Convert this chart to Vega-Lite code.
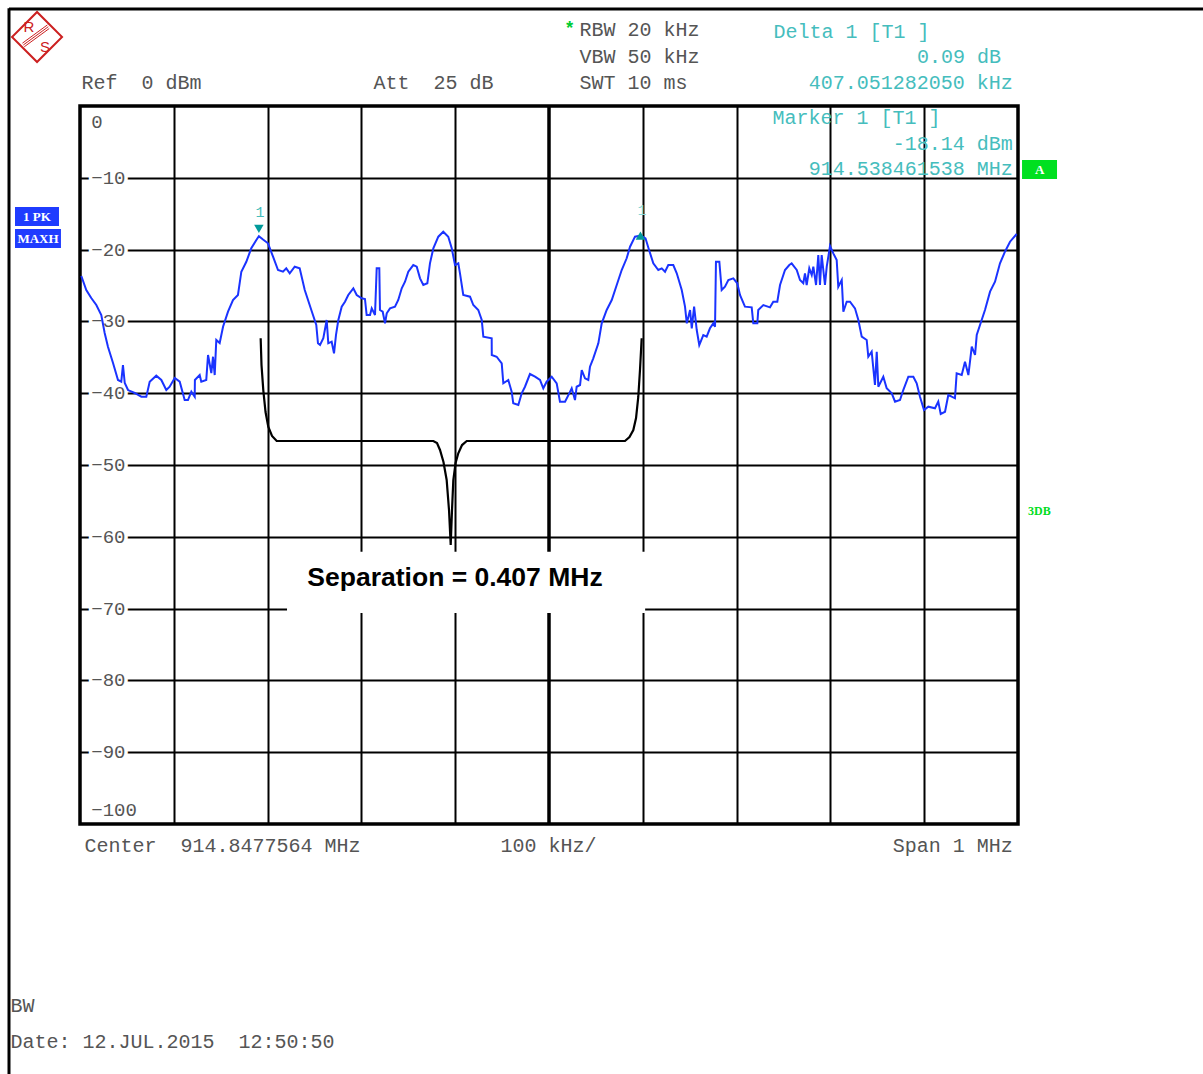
{
"$schema": "https://vega.github.io/schema/vega-lite/v6.json",
"width": 938, "height": 718,
"autosize": {"type": "none"},
"padding": {"left": 80, "top": 106, "right": 185, "bottom": 250},
"background": "white",
"config": {"view": {"stroke": "#000", "strokeWidth": 3.5}},
"datasets": {
"center": [{"x": 0, "y": 0, "y2": -100}],
"trace": [
{"x":-498.6,"y":-23.68},{"x":-493.3,"y":-25.63},{"x":-488.0,"y":-26.74},{"x":-482.6,"y":-27.72},{"x":-477.3,"y":-29.11},{"x":-473.7,"y":-31.62},{"x":-470.2,"y":-33.52},{"x":-464.8,"y":-35.80},{"x":-459.5,"y":-38.16},{"x":-456.0,"y":-38.40},{"x":-454.2,"y":-36.07},{"x":-452.3,"y":-38.58},{"x":-448.8,"y":-39.56},{"x":-441.7,"y":-39.97},{"x":-434.6,"y":-40.49},{"x":-429.3,"y":-40.49},{"x":-425.7,"y":-38.40},{"x":-418.7,"y":-37.56},{"x":-413.3,"y":-38.16},{"x":-408.0,"y":-39.56},{"x":-404.4,"y":-39.10},{"x":-399.0,"y":-37.88},{"x":-393.7,"y":-38.40},{"x":-388.4,"y":-40.95},{"x":-384.9,"y":-40.95},{"x":-381.3,"y":-39.79},{"x":-377.7,"y":-40.49},{"x":-377.5,"y":-38.16},{"x":-372.4,"y":-37.47},{"x":-370.7,"y":-38.40},{"x":-365.4,"y":-38.16},{"x":-363.5,"y":-34.68},{"x":-360.0,"y":-37.19},{"x":-358.2,"y":-34.92},{"x":-356.4,"y":-37.47},{"x":-354.7,"y":-32.59},{"x":-351.1,"y":-33.01},{"x":-347.5,"y":-30.74},{"x":-342.2,"y":-28.65},{"x":-336.9,"y":-27.02},{"x":-331.6,"y":-26.32},{"x":-328.0,"y":-23.08},{"x":-322.7,"y":-21.69},{"x":-317.4,"y":-19.82},{"x":-312.0,"y":-18.66},{"x":-309.3,"y":-18.14},{"x":-304.9,"y":-18.6},{"x":-299.6,"y":-19.12},{"x":-294.2,"y":-20.99},{"x":-288.9,"y":-22.84},{"x":-283.6,"y":-23.08},{"x":-280.1,"y":-22.61},{"x":-276.4,"y":-23.30},{"x":-271.1,"y":-22.38},{"x":-265.8,"y":-22.61},{"x":-260.4,"y":-25.63},{"x":-253.4,"y":-28.41},{"x":-248.1,"y":-30.50},{"x":-246.3,"y":-33.05},{"x":-244.1,"y":-33.29},{"x":-240.6,"y":-32.35},{"x":-237.0,"y":-29.81},{"x":-235.3,"y":-33.05},{"x":-231.7,"y":-32.83},{"x":-229.2,"y":-34.44},{"x":-227.1,"y":-31.90},{"x":-224.6,"y":-29.81},{"x":-221.0,"y":-27.95},{"x":-217.5,"y":-27.26},{"x":-214.0,"y":-26.32},{"x":-208.6,"y":-25.39},{"x":-205.0,"y":-26.32},{"x":-199.7,"y":-26.78},{"x":-196.2,"y":-26.88},{"x":-194.4,"y":-29.11},{"x":-190.8,"y":-29.11},{"x":-189.0,"y":-28.18},{"x":-185.5,"y":-29.11},{"x":-183.7,"y":-22.61},{"x":-180.9,"y":-22.61},{"x":-180.2,"y":-28.41},{"x":-177.3,"y":-28.65},{"x":-174.8,"y":-30.27},{"x":-173.0,"y":-28.87},{"x":-169.5,"y":-28.18},{"x":-164.2,"y":-27.95},{"x":-160.7,"y":-27.02},{"x":-157.0,"y":-25.39},{"x":-153.5,"y":-24.47},{"x":-150.0,"y":-23.08},{"x":-144.7,"y":-22.15},{"x":-141.0,"y":-22.38},{"x":-137.5,"y":-24.00},{"x":-134.0,"y":-24.93},{"x":-129.7,"y":-24.69},{"x":-126.9,"y":-21.91},{"x":-123.3,"y":-19.82},{"x":-118.0,"y":-18.20},{"x":-112.7,"y":-17.51},{"x":-107.4,"y":-18.20},{"x":-103.7,"y":-19.82},{"x":-100.2,"y":-22.15},{"x":-96.7,"y":-21.91},{"x":-94.9,"y":-23.30},{"x":-91.4,"y":-26.32},{"x":-84.2,"y":-26.56},{"x":-80.7,"y":-27.72},{"x":-75.4,"y":-28.41},{"x":-71.7,"y":-29.81},{"x":-70.0,"y":-32.13},{"x":-61.1,"y":-32.35},{"x":-61.0,"y":-34.68},{"x":-55.8,"y":-34.92},{"x":-50.4,"y":-35.84},{"x":-48.7,"y":-38.62},{"x":-43.4,"y":-38.16},{"x":-39.8,"y":-39.79},{"x":-38.1,"y":-41.41},{"x":-32.7,"y":-41.64},{"x":-29.1,"y":-40.02},{"x":-25.6,"y":-39.10},{"x":-20.3,"y":-37.33},{"x":-14.9,"y":-37.70},{"x":-9.6,"y":-38.16},{"x":-6.1,"y":-39.32},{"x":-2.5,"y":-38.40},{"x":2.9,"y":-37.70},{"x":8.2,"y":-38.62},{"x":11.7,"y":-41.18},{"x":17.1,"y":-41.18},{"x":21.6,"y":-40.02},{"x":24.2,"y":-39.32},{"x":27.7,"y":-40.95},{"x":29.5,"y":-39.10},{"x":33.1,"y":-38.86},{"x":34.9,"y":-36.77},{"x":38.4,"y":-37.93},{"x":41.9,"y":-38.16},{"x":43.7,"y":-36.31},{"x":47.2,"y":-35.14},{"x":52.6,"y":-33.05},{"x":56.2,"y":-30.27},{"x":61.5,"y":-28.41},{"x":66.9,"y":-27.02},{"x":72.2,"y":-24.93},{"x":77.5,"y":-22.84},{"x":82.8,"y":-21.21},{"x":86.4,"y":-19.60},{"x":91.7,"y":-18.20},{"x":97.8,"y":-18.05},{"x":102.9,"y":-18.43},{"x":106.1,"y":-19.82},{"x":111.2,"y":-21.91},{"x":116.5,"y":-22.84},{"x":120.2,"y":-22.61},{"x":123.7,"y":-23.08},{"x":127.2,"y":-22.15},{"x":132.5,"y":-22.15},{"x":136.2,"y":-23.30},{"x":141.5,"y":-25.63},{"x":145.0,"y":-27.95},{"x":146.9,"y":-30.27},{"x":150.4,"y":-28.41},{"x":152.2,"y":-30.96},{"x":154.7,"y":-27.95},{"x":157.5,"y":-31.20},{"x":160.2,"y":-33.29},{"x":164.5,"y":-31.90},{"x":168.1,"y":-32.13},{"x":171.6,"y":-30.96},{"x":175.2,"y":-30.27},{"x":177.0,"y":-30.74},{"x":178.0,"y":-21.69},{"x":181.6,"y":-21.69},{"x":184.1,"y":-25.63},{"x":187.6,"y":-25.17},{"x":191.2,"y":-24.23},{"x":196.5,"y":-24.00},{"x":200.7,"y":-24.69},{"x":203.6,"y":-26.32},{"x":208.9,"y":-27.95},{"x":216.1,"y":-28.04},{"x":217.8,"y":-30.27},{"x":222.1,"y":-30.27},{"x":223.1,"y":-28.41},{"x":228.5,"y":-27.72},{"x":235.6,"y":-28.04},{"x":239.1,"y":-27.26},{"x":243.4,"y":-27.26},{"x":246.3,"y":-24.93},{"x":251.6,"y":-22.84},{"x":256.2,"y":-22.15},{"x":258.7,"y":-21.91},{"x":264.1,"y":-22.84},{"x":267.6,"y":-24.23},{"x":271.1,"y":-24.69},{"x":272.9,"y":-23.30},{"x":274.7,"y":-24.93},{"x":277.5,"y":-22.61},{"x":280.1,"y":-23.54},{"x":281.8,"y":-22.38},{"x":284.7,"y":-24.93},{"x":287.1,"y":-20.75},{"x":288.9,"y":-24.93},{"x":290.7,"y":-20.75},{"x":294.2,"y":-24.93},{"x":296.1,"y":-22.38},{"x":299.6,"y":-19.50},{"x":303.1,"y":-20.52},{"x":306.7,"y":-21.45},{"x":308.4,"y":-25.17},{"x":312.1,"y":-24.23},{"x":313.8,"y":-28.65},{"x":317.4,"y":-27.26},{"x":320.9,"y":-27.26},{"x":326.2,"y":-28.18},{"x":329.8,"y":-29.81},{"x":333.4,"y":-32.13},{"x":338.7,"y":-32.59},{"x":340.4,"y":-34.92},{"x":344.0,"y":-34.22},{"x":347.5,"y":-38.86},{"x":349.4,"y":-34.22},{"x":351.1,"y":-39.10},{"x":356.4,"y":-37.70},{"x":360.0,"y":-39.32},{"x":365.4,"y":-40.02},{"x":368.9,"y":-41.18},{"x":374.2,"y":-40.95},{"x":377.7,"y":-39.56},{"x":383.1,"y":-37.70},{"x":388.4,"y":-37.70},{"x":392.0,"y":-38.62},{"x":395.5,"y":-40.49},{"x":399.8,"y":-42.34},{"x":404.4,"y":-41.88},{"x":411.5,"y":-42.10},{"x":415.0,"y":-41.18},{"x":417.6,"y":-42.90},{"x":422.2,"y":-42.58},{"x":425.7,"y":-40.25},{"x":429.3,"y":-40.49},{"x":432.8,"y":-40.71},{"x":434.6,"y":-37.23},{"x":440.0,"y":-37.47},{"x":443.5,"y":-35.61},{"x":447.1,"y":-37.47},{"x":450.7,"y":-33.52},{"x":454.2,"y":-34.68},{"x":456.0,"y":-31.90},{"x":459.5,"y":-30.50},{"x":464.8,"y":-28.41},{"x":470.2,"y":-25.86},{"x":475.5,"y":-24.47},{"x":480.8,"y":-21.91},{"x":486.1,"y":-20.29},{"x":491.5,"y":-18.90},{"x":498.6,"y":-17.83}
],
"filter": [
{"x":-307.4,"y":-32.35},{"x":-306.5,"y":-36.07},{"x":-304.6,"y":-39.56},{"x":-302.2,"y":-42.62},{"x":-299.3,"y":-44.67},{"x":-295.3,"y":-45.96},{"x":-290.3,"y":-46.66},{"x":-123.3,"y":-46.66},{"x":-119.4,"y":-46.94},{"x":-116.2,"y":-47.91},{"x":-112.5,"y":-49.58},{"x":-109.1,"y":-52.09},{"x":-106.6,"y":-56.27},{"x":-104.8,"y":-61.14},{"x":-103.4,"y":-56.27},{"x":-102.0,"y":-52.09},{"x":-99.6,"y":-49.72},{"x":-96.7,"y":-48.37},{"x":-92.7,"y":-47.22},{"x":-87.7,"y":-46.66},{"x":81.0,"y":-46.66},{"x":85.8,"y":-46.10},{"x":89.9,"y":-45.13},{"x":92.8,"y":-43.46},{"x":95.2,"y":-40.49},{"x":97.0,"y":-36.77},{"x":98.8,"y":-32.35}
],
"ylabels": [
{"x":-488,"y":-2.23,"t":"0"},{"x":-488,"y":-10,"t":"−10"},{"x":-488,"y":-20,"t":"−20"},{"x":-488,"y":-30,"t":"−30"},{"x":-488,"y":-40,"t":"−40"},{"x":-488,"y":-50,"t":"−50"},{"x":-488,"y":-60,"t":"−60"},{"x":-488,"y":-70,"t":"−70"},{"x":-488,"y":-80,"t":"−80"},{"x":-488,"y":-90,"t":"−90"},{"x":-488,"y":-98.05,"t":"−100"}
],
"sepbox": [{"x":-279.3,"x2":102.5,"y":-62.07,"y2":-70.6}],
"septext": [{"x":-100.2,"y":-65.74,"t":"Separation = 0.407 MHz"}],
"grayLeft": [
{"x":-498.5,"y":3.2,"t":"Ref \u00a00 dBm"},
{"x":-187.2,"y":3.2,"t":"Att \u00a025 dB"},
{"x":32.5,"y":10.59,"t":"RBW 20 kHz"},
{"x":32.5,"y":6.82,"t":"VBW 50 kHz"},
{"x":32.5,"y":3.2,"t":"SWT 10 ms"},
{"x":-495.3,"y":-103.07,"t":"Center \u00a0914.8477564 MHz"},
{"x":-51.8,"y":-103.07,"t":"100 kHz/"},
{"x":-574.2,"y":-125.35,"t":"BW"},
{"x":-574.2,"y":-130.37,"t":"Date: 12.JUL.2015 \u00a012:50:50"}
],
"grayRight": [{"x":494.5,"y":-103.07,"t":"Span 1 MHz"}],
"tealLeft": [
{"x":239.3,"y":10.31,"t":"Delta 1 [T1 ]"},
{"x":238.2,"y":-1.67,"t":"Marker 1 [T1 ]"}
],
"tealRight": [
{"x":481.8,"y":6.82,"t":"0.09 dB"},
{"x":494.5,"y":3.2,"t":"407.051282050 kHz"},
{"x":494.5,"y":-5.29,"t":"-18.14 dBm"},
{"x":494.5,"y":-8.77,"t":"914.538461538 MHz"}
],
"star": [{"x":21.9,"y":10.7,"t":"*"}],
"mk1": [{"x":-309.3,"y":-17.1}],
"mk1label": [{"x":-308.2,"y":-14.76,"t":"1"}],
"mk2": [{"x":97.5,"y":-18.04}],
"mk2label": [{"x":99.1,"y":-14.49,"t":"1"}],
"blueboxes": [{"x":-569.3,"x2":-522.4,"y":-14.07,"y2":-16.71},{"x":-569.3,"x2":-520.3,"y":-17.13,"y2":-19.78}],
"bluetext": [{"x":-546,"y":-15.45,"t":"1 PK"},{"x":-544.8,"y":-18.5,"t":"MAXH"}],
"greenbox": [{"x":504.3,"x2":541.6,"y":-7.52,"y2":-10.17}],
"greentext": [{"x":523,"y":-8.9,"t":"A"}],
"db3": [{"x":510.7,"y":-56.41,"t":"3DB"}],
"logo": [{"x":-545.8,"y":9.61}],
"logoR": [{"x":-554.4,"y":11.0,"t":"R"}],
"logoS": [{"x":-537.3,"y":8.22,"t":"S"}],
"logoStripes": [
{"x":-561.4,"x2":-534.8,"y":8.75,"y2":11.29},
{"x":-560.4,"x2":-533.8,"y":8.50,"y2":11.04},
{"x":-559.4,"x2":-532.8,"y":8.25,"y2":10.79}
],
"frameV": [{"x":-575.7,"y":13.6,"y2":-135}],
"frameH": [{"x":-575.7,"x2":700,"y":13.5}]
},
"encoding": {
"x": {"field": "x", "type": "quantitative", "scale": {"domain": [-500, 500], "nice": false, "zero": false},
 "axis": {"values": [-400,-300,-200,-100,100,200,300,400], "grid": true, "gridColor": "#000", "gridWidth": 2, "gridOpacity": 1, "labels": false, "ticks": false, "domain": false, "title": null}},
"y": {"field": "y", "type": "quantitative", "scale": {"domain": [-100, 0], "nice": false, "zero": false},
 "axis": {"values": [-90,-80,-70,-60,-50,-40,-30,-20,-10], "grid": true, "gridColor": "#000", "gridWidth": 2, "gridOpacity": 1, "labels": false, "ticks": false, "domain": false, "title": null}}
},
"layer": [
{"data": {"name": "center"}, "mark": {"type": "rule", "color": "#000", "strokeWidth": 3.5}, "encoding": {"y2": {"field": "y2"}}},
{"data": {"name": "ylabels"}, "mark": {"type": "text", "align": "left", "baseline": "middle", "font": "Liberation Mono", "fontSize": 19, "fill": "white", "stroke": "white", "strokeWidth": 7}, "encoding": {"text": {"field": "t"}}},
{"data": {"name": "ylabels"}, "mark": {"type": "text", "align": "left", "baseline": "middle", "font": "Liberation Mono", "fontSize": 19, "color": "#555"}, "encoding": {"text": {"field": "t"}}},
{"data": {"name": "trace"}, "mark": {"type": "line", "color": "#1a33ff", "strokeWidth": 2}},
{"data": {"name": "filter"}, "mark": {"type": "line", "color": "#000", "strokeWidth": 2.2}},
{"data": {"name": "sepbox"}, "mark": {"type": "rect", "color": "white", "strokeWidth": 0}, "encoding": {"x2": {"field": "x2"}, "y2": {"field": "y2"}}},
{"data": {"name": "septext"}, "mark": {"type": "text", "align": "center", "baseline": "middle", "font": "Liberation Sans", "fontWeight": "bold", "fontSize": 26.5, "color": "#000"}, "encoding": {"text": {"field": "t"}}},
{"data": {"name": "grayLeft"}, "mark": {"type": "text", "align": "left", "baseline": "middle", "font": "Liberation Mono", "fontSize": 20, "color": "#555"}, "encoding": {"text": {"field": "t"}}},
{"data": {"name": "grayRight"}, "mark": {"type": "text", "align": "right", "baseline": "middle", "font": "Liberation Mono", "fontSize": 20, "color": "#555"}, "encoding": {"text": {"field": "t"}}},
{"data": {"name": "tealLeft"}, "mark": {"type": "text", "align": "left", "baseline": "middle", "font": "Liberation Mono", "fontSize": 20, "color": "#45bdbd"}, "encoding": {"text": {"field": "t"}}},
{"data": {"name": "tealRight"}, "mark": {"type": "text", "align": "right", "baseline": "middle", "font": "Liberation Mono", "fontSize": 20, "color": "#45bdbd"}, "encoding": {"text": {"field": "t"}}},
{"data": {"name": "star"}, "mark": {"type": "text", "align": "center", "baseline": "middle", "font": "Liberation Mono", "fontSize": 18, "fontWeight": "bold", "color": "#00cc33"}, "encoding": {"text": {"field": "t"}}},
{"data": {"name": "mk1"}, "mark": {"type": "point", "shape": "triangle-down", "filled": true, "size": 90, "color": "#009a9a", "opacity": 1}},
{"data": {"name": "mk1label"}, "mark": {"type": "text", "align": "center", "baseline": "middle", "font": "Liberation Mono", "fontSize": 15, "color": "#45bdbd"}, "encoding": {"text": {"field": "t"}}},
{"data": {"name": "mk2"}, "mark": {"type": "point", "shape": "triangle-up", "filled": true, "size": 90, "color": "#009a9a", "opacity": 1}},
{"data": {"name": "mk2label"}, "mark": {"type": "text", "align": "center", "baseline": "middle", "font": "Liberation Mono", "fontSize": 15, "color": "#8ad6d6"}, "encoding": {"text": {"field": "t"}}},
{"data": {"name": "blueboxes"}, "mark": {"type": "rect", "color": "#1f3cff"}, "encoding": {"x2": {"field": "x2"}, "y2": {"field": "y2"}}},
{"data": {"name": "bluetext"}, "mark": {"type": "text", "align": "center", "baseline": "middle", "font": "Liberation Serif", "fontWeight": "bold", "fontSize": 13, "color": "white"}, "encoding": {"text": {"field": "t"}}},
{"data": {"name": "greenbox"}, "mark": {"type": "rect", "color": "#00e020"}, "encoding": {"x2": {"field": "x2"}, "y2": {"field": "y2"}}},
{"data": {"name": "greentext"}, "mark": {"type": "text", "align": "center", "baseline": "middle", "font": "Liberation Serif", "fontWeight": "bold", "fontSize": 13, "color": "white"}, "encoding": {"text": {"field": "t"}}},
{"data": {"name": "db3"}, "mark": {"type": "text", "align": "left", "baseline": "middle", "font": "Liberation Serif", "fontWeight": "bold", "fontSize": 12, "color": "#00dd22"}, "encoding": {"text": {"field": "t"}}},
{"data": {"name": "logo"}, "mark": {"type": "point", "shape": "square", "angle": 45, "size": 1250, "filled": false, "color": "#cc2020", "strokeWidth": 2, "opacity": 1}},
{"data": {"name": "logoStripes"}, "mark": {"type": "rule", "color": "#cc2020", "strokeWidth": 1}, "encoding": {"x2": {"field": "x2"}, "y2": {"field": "y2"}}},
{"data": {"name": "logoR"}, "mark": {"type": "text", "align": "center", "baseline": "middle", "font": "Liberation Sans", "fontSize": 15, "color": "#cc2020"}, "encoding": {"text": {"field": "t"}}},
{"data": {"name": "logoS"}, "mark": {"type": "text", "align": "center", "baseline": "middle", "font": "Liberation Sans", "fontSize": 15, "color": "#cc2020"}, "encoding": {"text": {"field": "t"}}},
{"data": {"name": "frameV"}, "mark": {"type": "rule", "color": "#000", "strokeWidth": 3}, "encoding": {"y2": {"field": "y2"}}},
{"data": {"name": "frameH"}, "mark": {"type": "rule", "color": "#000", "strokeWidth": 3}, "encoding": {"x2": {"field": "x2"}}}
]
}
